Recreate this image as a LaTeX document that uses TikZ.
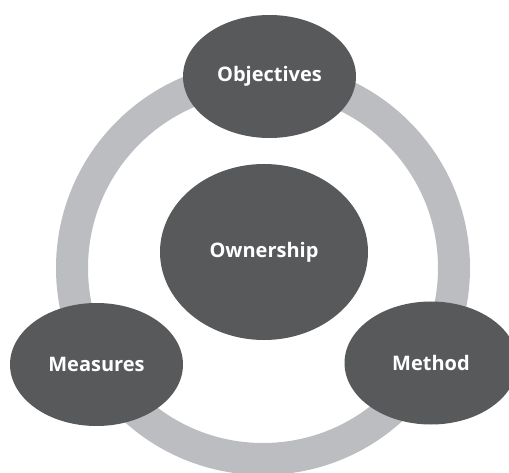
\documentclass[tikz,border=0pt]{standalone}
\usepackage{fontspec}
\setmainfont{Open Sans}
\usetikzlibrary{shapes.geometric}

\definecolor{darkgrey}{HTML}{58595B}
\definecolor{ringgrey}{HTML}{BCBDC0}

\tikzset{
  ring/.style={draw=ringgrey, line width=32pt},
  blob/.style={ellipse, fill=darkgrey, text=white, inner sep=0pt,
    minimum width=173pt, minimum height=123pt, font=\fontsize{20}{23}\selectfont\bfseries},
  core/.style={blob, minimum width=208pt, minimum height=176pt}
}

\begin{document}
\begin{tikzpicture}[x=1pt, y=-1pt]
  \useasboundingbox (0,0) rectangle (509,473);

  % Ring behind the nodes
  \coordinate (ctr) at (263,268);
  \draw[ring] (ctr) circle[radius=191pt];

  % Define nodes
  \node[core]              (own) at (264,252) {Ownership};
  \node[blob]              (obj) at (269.5,76.5) {Objectives};
  \node[blob]              (mea) at (96.5,364.5) {Measures};
  \node[blob]              (met) at (431,363) {Method};
\end{tikzpicture}
\end{document}
